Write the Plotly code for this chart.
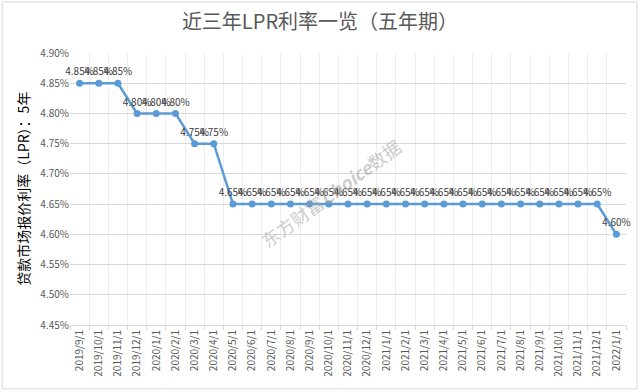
import plotly.graph_objects as go

dates = ["2019/9/1", "2019/10/1", "2019/11/1", "2019/12/1", "2020/1/1", "2020/2/1",
         "2020/3/1", "2020/4/1", "2020/5/1", "2020/6/1", "2020/7/1", "2020/8/1",
         "2020/9/1", "2020/10/1", "2020/11/1", "2020/12/1", "2021/1/1", "2021/2/1",
         "2021/3/1", "2021/4/1", "2021/5/1", "2021/6/1", "2021/7/1", "2021/8/1",
         "2021/9/1", "2021/10/1", "2021/11/1", "2021/12/1", "2022/1/1"]
lpr_5y = [4.85, 4.85, 4.85, 4.80, 4.80, 4.80, 4.75, 4.75,
          4.65, 4.65, 4.65, 4.65, 4.65, 4.65, 4.65, 4.65, 4.65, 4.65,
          4.65, 4.65, 4.65, 4.65, 4.65, 4.65, 4.65, 4.65, 4.65, 4.65, 4.60]
y_ticks = [4.45, 4.50, 4.55, 4.60, 4.65, 4.70, 4.75, 4.80, 4.85, 4.90]

font_fam = "Microsoft YaHei, Noto Sans CJK SC, sans-serif"

fig = go.Figure()
fig.add_trace(go.Scatter(
    x=dates, y=lpr_5y, mode="lines+markers+text",
    line=dict(color="#5B9BD5", width=2.5),
    marker=dict(color="#5B9BD5", size=7),
    text=[f"{v:.2f}%" for v in lpr_5y],
    textposition="top center",
    textfont=dict(size=10, color="#404040", family=font_fam),
    cliponaxis=False,
    showlegend=False,
))

fig.update_layout(
    width=640, height=392,
    margin=dict(l=70, r=14, t=53, b=67, autoexpand=False),
    paper_bgcolor="white", plot_bgcolor="white",
    title=dict(text="近三年LPR利率一览（五年期）", x=0.5, xanchor="center",
               y=0.945, yanchor="middle",
               font=dict(size=20, color="#595959", family=font_fam)),
    xaxis=dict(
        type="category", tickangle=-90, tickson="boundaries",
        range=[-0.5, len(dates) - 0.5], automargin=False,
        showgrid=True, gridcolor="#EEEEEE", gridwidth=1,
        showline=True, linecolor="#D9D9D9",
        ticks="outside", ticklen=4, tickcolor="#D9D9D9",
        tickfont=dict(size=10, color="#595959", family=font_fam),
    ),
    yaxis=dict(
        range=[4.45, 4.90], tickvals=y_ticks, automargin=False,
        ticktext=[f"{v:.2f}%" for v in y_ticks],
        showgrid=True, gridcolor="#D9D9D9", gridwidth=1,
        zeroline=False, showline=False,
        tickfont=dict(size=10, color="#595959", family=font_fam),
    ),
    shapes=[dict(type="rect", xref="paper", yref="paper", x0=-0.122, x1=1.0198,
                 y0=-0.235, y1=1.1875, line=dict(color="#D9D9D9", width=1))],
    annotations=[
        dict(text="贷款市场报价利率（LPR）：5年", xref="paper", yref="paper",
             x=-0.085, y=0.5, xanchor="center", yanchor="middle", textangle=-90,
             showarrow=False,
             font=dict(size=14, color="#000000", family=font_fam)),
        dict(text="东方财富<b><i>Choice</i></b>数据", x=0.469, y=0.485,
             xref="paper", yref="paper",
             showarrow=False, textangle=-36,
             font=dict(size=18, color="rgba(160,160,160,0.55)", family=font_fam)),
    ],
)

fig.write_html("out.html", config={"displayModeBar": False},
               post_script="document.body.style.margin='0';")
